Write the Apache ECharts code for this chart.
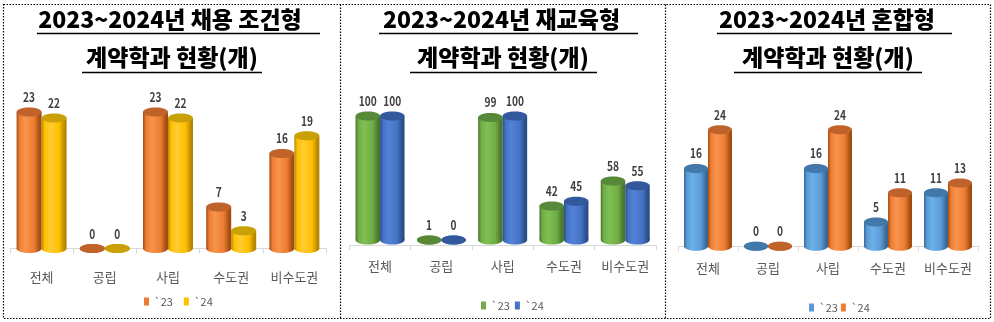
<!DOCTYPE html>
<html>
<head>
<meta charset="utf-8">
<script src="https://cdn.jsdelivr.net/npm/echarts@6/dist/echarts.min.js"></script>
<style>
html, body { margin: 0; padding: 0; background: #fff; }
#chart { width: 994px; height: 322px; }
</style>
</head>
<body>
<div id="chart"></div>
<script>
// data
var categories = ['전체', '공립', '사립', '수도권', '비수도권'];
var legendNames = ['`23', '`24'];
var titleTop = ['2023~2024년 채용 조건형', '2023~2024년 재교육형', '2023~2024년 혼합형'];
var titleBottom = '계약학과 현황(개)';

var hire23 = [23, 0, 23, 7, 16];
var hire24 = [22, 0, 22, 3, 19];
var retrain23 = [100, 1, 99, 42, 58];
var retrain24 = [100, 0, 100, 45, 55];
var mixed23 = [16, 0, 16, 5, 11];
var mixed24 = [24, 0, 24, 11, 13];

// cylinder colours: base / dark edge / highlight / top cap
var ORANGE = { base: '#ed7d31', dark: '#a24c12', light: '#f8944f', top: '#c0632a' };
var YELLOW = { base: '#ffc000', dark: '#b58700', light: '#ffcc33', top: '#c9a106' };
var GREEN  = { base: '#70ad47', dark: '#4a752c', light: '#80c052', top: '#578a38' };
var BLUE   = { base: '#4472c4', dark: '#2b4c88', light: '#5283d8', top: '#33589c' };
var SKY    = { base: '#5b9bd5', dark: '#3a6894', light: '#6cb0ea', top: '#4278aa' };

var FONT = '"Noto Sans CJK KR", "Noto Sans", sans-serif';

var panels = [
  { s23: hire23, s24: hire24, c23: ORANGE, c24: YELLOW, min: 0, max: 25, barW: 25,
    grid: { left: 10, width: 316, top: 100.1, height: 148.5 }, axisOffset: 3, labelMargin: 19,
    legend: { left: 139, top: 291, gap: 11 },
    t1: [170, 19], t2: [172, 57], u1: [37, 320], u2: [82, 262] },
  { s23: retrain23, s24: retrain24, c23: GREEN, c24: BLUE, min: 20, max: 110, barW: 24.5,
    grid: { left: 349.4, width: 306.5, top: 100.5, height: 139.5 }, axisOffset: 5, labelMargin: 15,
    legend: { left: 476, top: 295, gap: 5 },
    t1: [501.5, 19], t2: [503, 57], u1: [379, 638], u2: [410, 597] },
  { s23: mixed23, s24: mixed24, c23: SKY, c24: ORANGE, min: 0, max: 30, barW: 24,
    grid: { left: 678, width: 300, top: 100.5, height: 145.8 }, axisOffset: 3, labelMargin: 12.5,
    legend: { left: 804, top: 297, gap: 3 },
    t1: [827, 19], t2: [828, 57], u1: [717, 952], u2: [734, 922] }
];

function bodyFill(c) {
  return {
    type: 'linear', x: 0, y: 0, x2: 1, y2: 0,
    colorStops: [
      { offset: 0, color: c.dark },
      { offset: 0.12, color: c.base },
      { offset: 0.35, color: c.light },
      { offset: 0.7, color: c.base },
      { offset: 0.93, color: c.dark },
      { offset: 1, color: c.dark }
    ]
  };
}

function cylinder(c, axisMin, side, barW) {
  return function (params, api) {
    var idx = api.value(0);
    var val = api.value(1);
    var pt = api.coord([idx, val]);
    var base = api.coord([idx, axisMin]);
    var cx = pt[0] + side * barW / 2;
    var ty = Math.min(pt[1], base[1]);
    var by = base[1];
    var rx = barW / 2, ry = 4.5;
    var fill = bodyFill(c);
    return {
      type: 'group',
      children: [
        { type: 'rect', shape: { x: cx - rx, y: ty, width: barW, height: by - ty }, style: { fill: fill } },
        { type: 'ellipse', shape: { cx: cx, cy: by, rx: rx, ry: ry }, style: { fill: fill } },
        { type: 'ellipse', shape: { cx: cx, cy: ty, rx: rx, ry: ry }, style: { fill: c.top } },
        { type: 'text', x: cx, y: ty - 15, scaleX: 0.78,
          style: { text: String(val), align: 'center', verticalAlign: 'middle',
                   fill: '#404040', fontSize: 13, fontWeight: 'bold', fontFamily: FONT } }
      ]
    };
  };
}

var grids = [], xAxes = [], yAxes = [], series = [], legends = [], graphics = [];

panels.forEach(function (p, i) {
  grids.push(p.grid);
  xAxes.push({
    type: 'category', gridIndex: i, data: categories, offset: p.axisOffset,
    axisLine: { lineStyle: { color: '#d9d9d9' } },
    axisTick: { show: true, length: 5, lineStyle: { color: '#d9d9d9' } },
    axisLabel: { interval: 0, color: '#595959', fontSize: 13, fontFamily: FONT, margin: p.labelMargin }
  });
  yAxes.push({ type: 'value', gridIndex: i, min: p.min, max: p.max, show: false });

  [[p.s23, p.c23, -1, legendNames[0]], [p.s24, p.c24, 1, legendNames[1]]].forEach(function (s) {
    series.push({
      type: 'custom', name: s[3], xAxisIndex: i, yAxisIndex: i,
      itemStyle: { color: s[1].base },
      encode: { x: 0, y: 1 },
      data: s[0].map(function (v, k) { return [k, v]; }),
      renderItem: cylinder(s[1], p.min, s[2], p.barW)
    });
  });

  legends.push({
    left: p.legend.left, top: p.legend.top, itemGap: p.legend.gap,
    itemWidth: 5, itemHeight: 8, icon: 'rect', selectedMode: false,
    textStyle: { color: '#595959', fontSize: 11, fontFamily: FONT },
    data: [
      { name: legendNames[0], itemStyle: { color: p.c23.base } },
      { name: legendNames[1], itemStyle: { color: p.c24.base } }
    ]
  });

  graphics.push(
    { type: 'text', x: p.t1[0], y: p.t1[1],
      style: { text: titleTop[i], align: 'center', verticalAlign: 'middle', fill: '#000',
               fontSize: 23, fontWeight: 900, fontFamily: FONT } },
    { type: 'text', x: p.t2[0], y: p.t2[1],
      style: { text: titleBottom, align: 'center', verticalAlign: 'middle', fill: '#000',
               fontSize: 23, fontWeight: 900, fontFamily: FONT } },
    { type: 'line', shape: { x1: p.u1[0], y1: 33.5, x2: p.u1[1], y2: 33.5 }, style: { stroke: '#000', lineWidth: 1.5 } },
    { type: 'line', shape: { x1: p.u2[0], y1: 72.5, x2: p.u2[1], y2: 72.5 }, style: { stroke: '#000', lineWidth: 1.5 } }
  );
});

// dotted frame and panel dividers
var dotted = { stroke: '#000', lineWidth: 1.2, lineDash: [1.5, 1.5], fill: null };
graphics.push(
  { type: 'rect', shape: { x: 3.5, y: 4.5, width: 987, height: 314 }, style: dotted },
  { type: 'line', shape: { x1: 340.5, y1: 4.5, x2: 340.5, y2: 318.5 }, style: dotted },
  { type: 'line', shape: { x1: 665.5, y1: 4.5, x2: 665.5, y2: 318.5 }, style: dotted }
);

var myChart = echarts.init(document.getElementById('chart'));
myChart.setOption({
  animation: false,
  grid: grids,
  xAxis: xAxes,
  yAxis: yAxes,
  legend: legends,
  series: series,
  graphic: graphics
});
</script>
</body>
</html>
